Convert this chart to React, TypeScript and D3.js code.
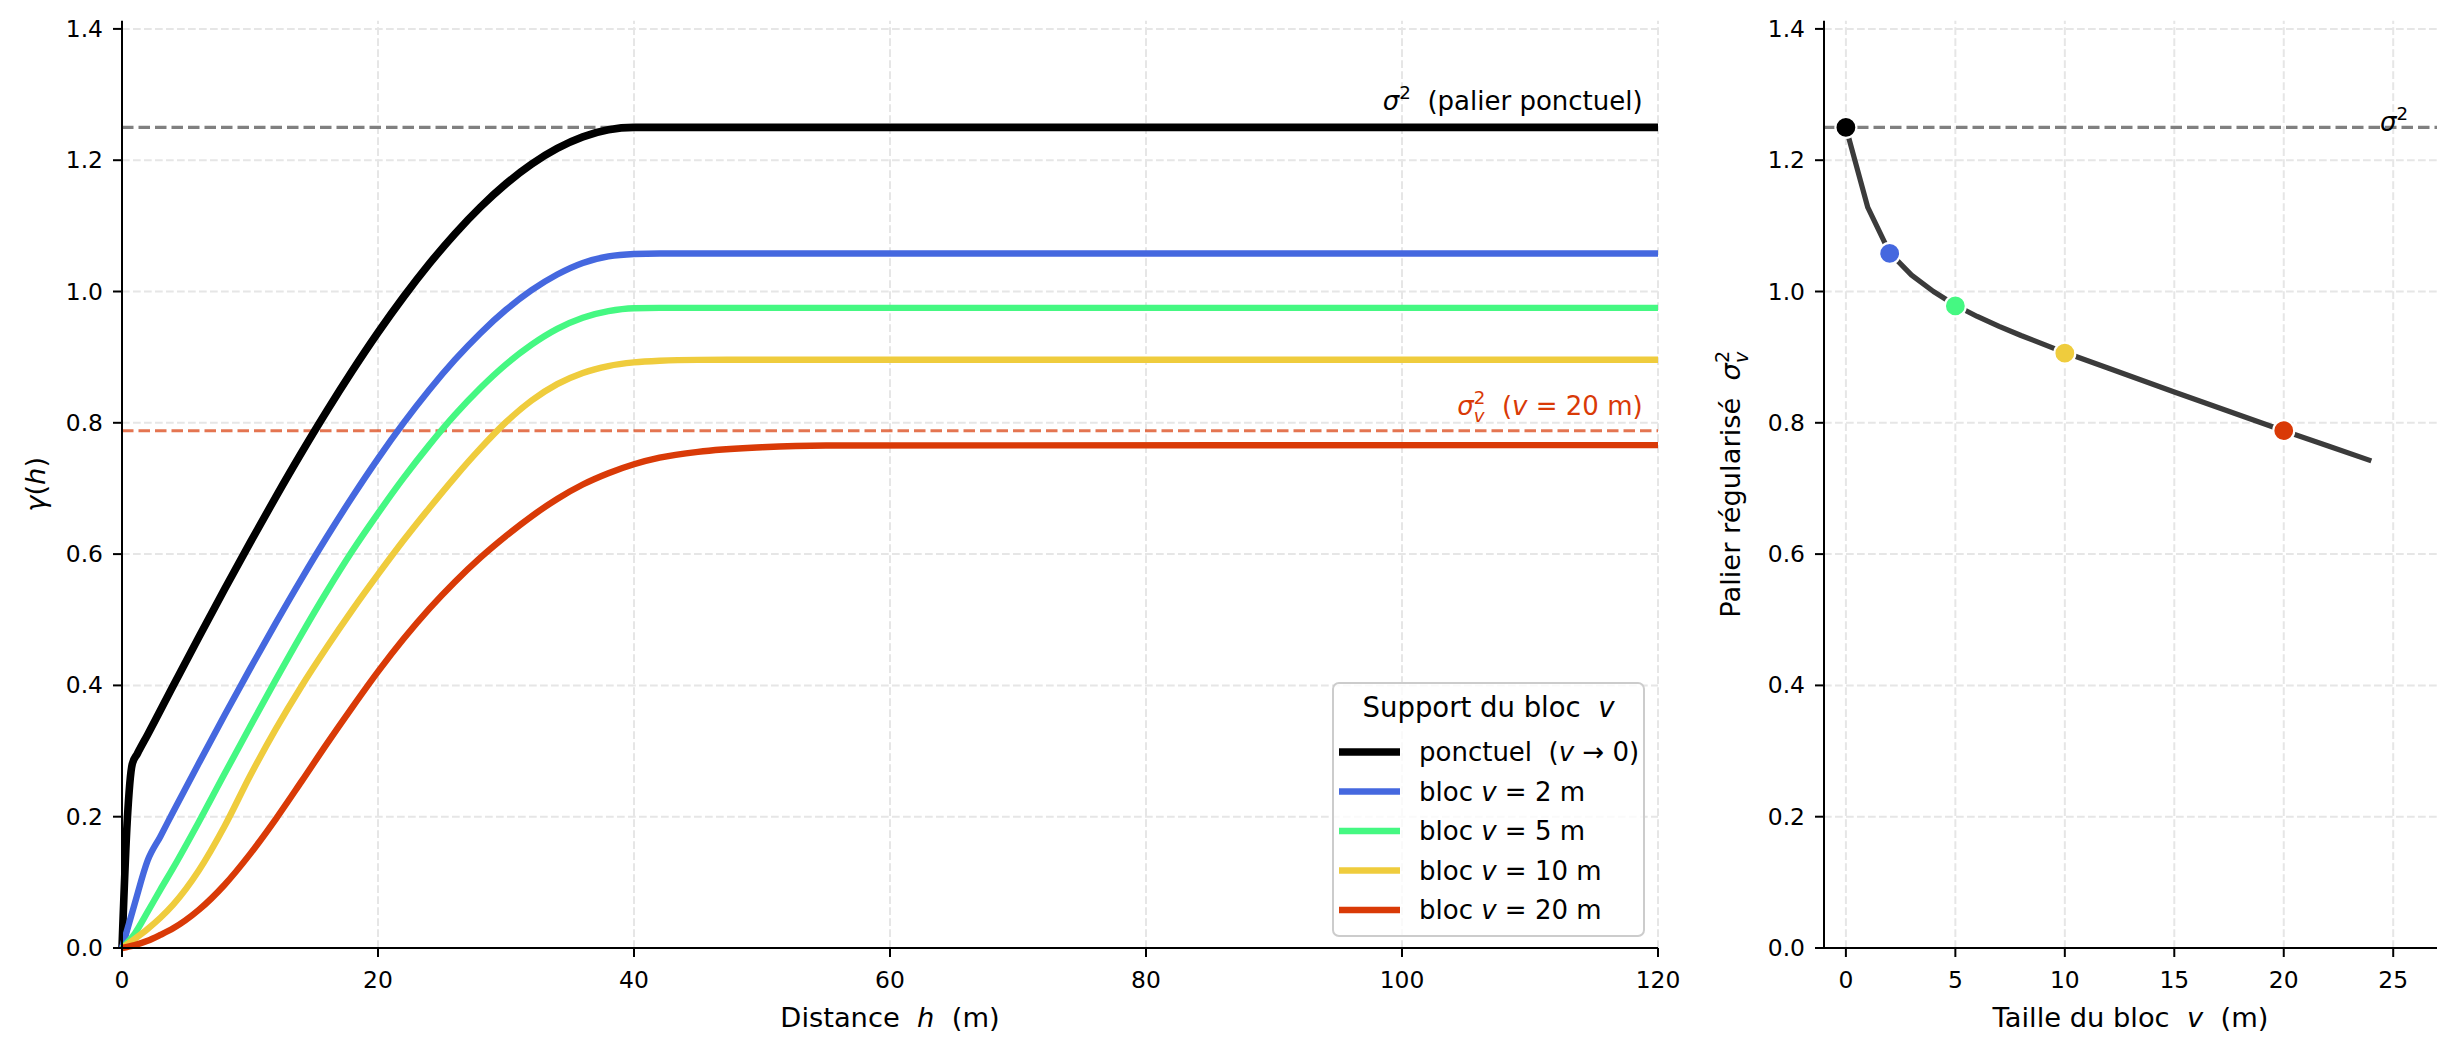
import * as d3 from 'd3';

// ---- data ----
const H_PONCTUEL = [0, 0.4, 0.8, 1.2, 2, 4, 6, 8, 10, 12, 14, 16, 18, 20, 22, 24, 26, 28, 30, 32, 34, 36, 38, 40, 120];
const GAMMA_PONCTUEL = [0, 0.19, 0.28, 0.296, 0.3249, 0.3995, 0.4733, 0.546, 0.6172, 0.6865, 0.7536, 0.818, 0.8794, 0.9375, 0.9918, 1.042, 1.0877, 1.1285, 1.1641, 1.194, 1.2179, 1.2355, 1.2463, 1.25, 1.25];

const H_BLOC = [0, 1, 2, 3, 4, 6, 8, 10, 12, 14, 16, 18, 20, 22, 24, 26, 28, 30, 32, 34, 36, 38, 40, 42, 45, 50, 55, 120];
const GAMMA_V2 = [0, 0.068, 0.133, 0.17, 0.2075, 0.2813, 0.354, 0.4252, 0.4945, 0.5616, 0.626, 0.6874, 0.7455, 0.7998, 0.85, 0.8957, 0.9365, 0.9721, 1.002, 1.0259, 1.0435, 1.0535, 1.0572, 1.058, 1.058, 1.058, 1.058, 1.058];
const GAMMA_V5 = [0, 0.022, 0.055, 0.089, 0.122, 0.192, 0.265, 0.337, 0.408, 0.477, 0.543, 0.605, 0.662, 0.716, 0.766, 0.812, 0.853, 0.889, 0.919, 0.943, 0.96, 0.97, 0.9745, 0.975, 0.975, 0.975, 0.975, 0.975];
const GAMMA_V10 = [0, 0.014, 0.029, 0.046, 0.066, 0.118, 0.185, 0.262, 0.333, 0.398, 0.458, 0.515, 0.569, 0.621, 0.67, 0.717, 0.761, 0.801, 0.834, 0.859, 0.876, 0.8865, 0.892, 0.8945, 0.8958, 0.896, 0.896, 0.896];
const GAMMA_V20 = [0, 0.0045, 0.011, 0.02, 0.03, 0.058, 0.096, 0.143, 0.196, 0.253, 0.311, 0.367, 0.421, 0.471, 0.5166, 0.5576, 0.5946, 0.6276, 0.6576, 0.684, 0.706, 0.7232, 0.7368, 0.7468, 0.7558, 0.7628, 0.7655, 0.766];

const BLOC_SIZES = [2, 5, 10, 20];
const BLOC_COLORS = ['#4568df', '#45f882', '#efcc3d', '#d93a07'];
const BLOC_GAMMAS = [GAMMA_V2, GAMMA_V5, GAMMA_V10, GAMMA_V20];

const SILL = 1.25;
const SILL_V20 = 0.788;

const V_CURVE = [0, 1, 2, 3, 4, 5, 6, 7, 8, 10, 12, 15, 20, 22, 24];
const SIGMA_V_CURVE = [1.25, 1.128, 1.059, 1.025, 1.0, 0.979, 0.962, 0.947, 0.933, 0.907, 0.883, 0.847, 0.788, 0.765, 0.742];
const V_MARK = [0, 2, 5, 10, 20];
const SIGMA_V_MARK = [1.25, 1.058, 0.978, 0.906, 0.788];
const MARK_COLORS = ['#000000', ...BLOC_COLORS];

const X_TICKS_L = [0, 20, 40, 60, 80, 100, 120];
const X_TICKS_R = [0, 5, 10, 15, 20, 25];
const Y_TICKS = [0, 0.2, 0.4, 0.6, 0.8, 1.0, 1.2, 1.4];

const FONT = "'DejaVu Sans', sans-serif";
const TICK_FS = 23.4;
const LABEL_FS = 27.3;
const TEXT_FS = 26;

// sigma with stacked sub "v" and sup "2", followed by the rest of the text
function sigmaV(fs: number, rest: any[]) {
  const s = fs * 0.7;
  return [
    <tspan key="sa" fontStyle="italic">σ</tspan>,
    <tspan key="sb" fontSize={s} dy={-fs * 0.42}>2</tspan>,
    <tspan key="sc" fontSize={s} fontStyle="italic" dx={-s * 0.636} dy={fs * 0.7}>v</tspan>,
    ...rest.map((r, i) => (
      <tspan key={'r' + i} dy={i === 0 ? -fs * 0.28 : undefined} dx={i === 0 ? s * 0.05 : undefined}
        fontStyle={r.italic ? 'italic' : undefined}>{r.t}</tspan>
    )),
  ];
}

function sigma2(fs: number, rest: string) {
  const s = fs * 0.7;
  return [
    <tspan key="a" fontStyle="italic">σ</tspan>,
    <tspan key="b" fontSize={s} dy={-fs * 0.42}>2</tspan>,
    ...(rest ? [<tspan key="c" dy={fs * 0.42}>{rest}</tspan>] : []),
  ];
}

export default function App() {
  const W = 2457, H = 1053;
  const yScale = d3.scaleLinear().domain([0, 1.4125]).range([948, 20.7]);
  const xL = d3.scaleLinear().domain([0, 120]).range([122, 1658]);
  const xR = d3.scaleLinear().domain([-1, 27]).range([1824, 2437]);

  const lineL = (hs: number[], gs: number[]) =>
    d3.line<number>()
      .x((_, i) => xL(hs[i]))
      .y((g) => yScale(g))
      .curve(d3.curveMonotoneX)(gs) as string;

  const lineR = d3.line<number>()
    .x((_, i) => xR(V_CURVE[i]))
    .y((g) => yScale(g))(SIGMA_V_CURVE) as string;

  const [yB, yT] = yScale.range();
  const gridStyle = { stroke: '#e6e6e6', strokeWidth: 2, strokeDasharray: '7.7,3.3' };
  const dashStyle = { strokeWidth: 3.1, strokeDasharray: '11.5,5' };
  const pre = { xmlSpace: 'preserve' } as any;

  const legendEntries = [
    { color: '#000000', w: 7.6, label: [<tspan key="a">ponctuel  (</tspan>, <tspan key="b" fontStyle="italic">v</tspan>, <tspan key="c"> → 0)</tspan>] },
    ...BLOC_SIZES.map((v, i) => ({
      color: BLOC_COLORS[i], w: 6.4,
      label: [<tspan key="a">bloc </tspan>, <tspan key="b" fontStyle="italic">v</tspan>, <tspan key="c">{` = ${v} m`}</tspan>],
    })),
  ];

  const axes = (x: d3.ScaleLinear<number, number>, ticks: number[]) => (
    <g>
      <line x1={x.range()[0]} x2={x.range()[0]} y1={yB} y2={yT} stroke="#000" strokeWidth={2} />
      <line x1={x.range()[0]} x2={x.range()[1]} y1={yB} y2={yB} stroke="#000" strokeWidth={2} />
      {ticks.map((t) => (
        <g key={'x' + t}>
          <line x1={x(t)} x2={x(t)} y1={yB} y2={yB + 9} stroke="#000" strokeWidth={2} />
          <text x={x(t)} y={988} textAnchor="middle" fontSize={TICK_FS}>{t}</text>
        </g>
      ))}
      {Y_TICKS.map((t) => (
        <g key={'y' + t}>
          <line x1={x.range()[0] - 9} x2={x.range()[0]} y1={yScale(t)} y2={yScale(t)} stroke="#000" strokeWidth={2} />
          <text x={x.range()[0] - 19} y={yScale(t)} textAnchor="end" dominantBaseline="central" fontSize={TICK_FS}>{t.toFixed(1)}</text>
        </g>
      ))}
    </g>
  );

  const grid = (x: d3.ScaleLinear<number, number>, ticks: number[]) => (
    <g>
      {ticks.map((t) => <line key={'gx' + t} x1={x(t)} x2={x(t)} y1={yB} y2={yT} style={gridStyle} />)}
      {Y_TICKS.map((t) => <line key={'gy' + t} x1={x.range()[0]} x2={x.range()[1]} y1={yScale(t)} y2={yScale(t)} style={gridStyle} />)}
    </g>
  );

  return (
    <svg width={W} height={H} {...pre} style={{ position: 'absolute', left: 0, top: 0, background: '#fff', fontFamily: FONT, whiteSpace: 'pre' }}>
      <rect width={W} height={H} fill="#fff" />

      {/* ---------- left panel ---------- */}
      {grid(xL, X_TICKS_L)}
      <line x1={xL(0)} x2={xL(120)} y1={yScale(SILL)} y2={yScale(SILL)} stroke="#808080" style={dashStyle} />
      <line x1={xL(0)} x2={xL(120)} y1={yScale(SILL_V20)} y2={yScale(SILL_V20)} stroke={BLOC_COLORS[3]} strokeOpacity={0.7} style={dashStyle} />
      <path d={lineL(H_PONCTUEL, GAMMA_PONCTUEL)} fill="none" stroke="#000" strokeWidth={7.6} strokeLinejoin="round" />
      {BLOC_GAMMAS.map((g, i) => (
        <path key={i} d={lineL(H_BLOC, g)} fill="none" stroke={BLOC_COLORS[i]} strokeWidth={6.4} strokeLinejoin="round" />
      ))}
      {axes(xL, X_TICKS_L)}

      <text {...pre} x={xL(118.8)} y={yScale(SILL + 0.02) - 4} textAnchor="end" fontSize={TEXT_FS}>
        {sigma2(TEXT_FS, '  (palier ponctuel)')}
      </text>
      <text {...pre} x={xL(118.8)} y={yScale(SILL_V20 + 0.02) - 3} textAnchor="end" fontSize={TEXT_FS} fill={BLOC_COLORS[3]}>
        {sigmaV(TEXT_FS, [{ t: '  (' }, { t: 'v', italic: true }, { t: ' = 20 m)' }])}
      </text>

      <text {...pre} x={xL(60)} y={1027} textAnchor="middle" fontSize={LABEL_FS}>
        <tspan>Distance  </tspan><tspan fontStyle="italic">h</tspan><tspan>  (m)</tspan>
      </text>
      <text {...pre} transform={`translate(45,${(yB + yT) / 2}) rotate(-90)`} textAnchor="middle" fontSize={LABEL_FS}>
        <tspan fontStyle="italic">γ</tspan><tspan>(</tspan><tspan fontStyle="italic">h</tspan><tspan>)</tspan>
      </text>

      {/* legend */}
      <g>
        <rect x={1333} y={683} width={311} height={253} rx={6} fill="#fff" fillOpacity={0.8} stroke="#cccccc" strokeWidth={2} />
        <text {...pre} x={1488.5} y={717} textAnchor="middle" fontSize={27.5}>
          <tspan>Support du bloc  </tspan><tspan fontStyle="italic">v</tspan>
        </text>
        {legendEntries.map((e, i) => {
          const cy = 752 + i * 39.5;
          return (
            <g key={i}>
              <line x1={1339} x2={1400} y1={cy} y2={cy} stroke={e.color} strokeWidth={e.w} />
              <text {...pre} x={1419} y={cy} dominantBaseline="central" fontSize={TEXT_FS}>{e.label}</text>
            </g>
          );
        })}
      </g>

      {/* ---------- right panel ---------- */}
      {grid(xR, X_TICKS_R)}
      <line x1={xR(-1)} x2={xR(27)} y1={yScale(SILL)} y2={yScale(SILL)} stroke="#808080" style={dashStyle} />
      <path d={lineR} fill="none" stroke="#3b3b3b" strokeWidth={5.2} strokeLinejoin="round" />
      {V_MARK.map((v, i) => (
        <circle key={v} cx={xR(v)} cy={yScale(SIGMA_V_MARK[i])} r={10.5} fill={MARK_COLORS[i]} stroke="#fff" strokeWidth={2.2} />
      ))}
      {axes(xR, X_TICKS_R)}

      <text {...pre} x={xR(24.4)} y={yScale(SILL) + 4} fontSize={TEXT_FS}>
        {sigma2(TEXT_FS, '')}
      </text>

      <text {...pre} x={(xR.range()[0] + xR.range()[1]) / 2} y={1027} textAnchor="middle" fontSize={LABEL_FS}>
        <tspan>Taille du bloc  </tspan><tspan fontStyle="italic">v</tspan><tspan>  (m)</tspan>
      </text>
      <text {...pre} transform={`translate(1740,${(yB + yT) / 2}) rotate(-90)`} textAnchor="middle" fontSize={LABEL_FS}>
        <tspan>Palier régularisé  </tspan>
        {sigmaV(LABEL_FS, [])}
      </text>
    </svg>
  );
}
